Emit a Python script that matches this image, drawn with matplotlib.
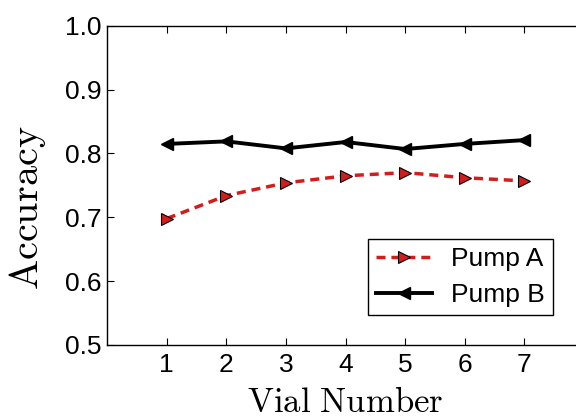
import matplotlib
matplotlib.use("Agg")
import matplotlib.pyplot as plt

vials = [1, 2, 3, 4, 5, 6, 7]
pump_a = [0.698, 0.734, 0.754, 0.765, 0.770, 0.762, 0.757]
pump_b = [0.815, 0.819, 0.808, 0.818, 0.807, 0.815, 0.821]

plt.rcParams['font.family'] = ['Liberation Sans', 'DejaVu Sans']
plt.rcParams['mathtext.fontset'] = 'cm'

fig = plt.figure(figsize=(5.76, 4.18), dpi=100)
# axes runs a bit past the right edge, like the cropped original
ax = fig.add_axes([0.186, 0.175, 0.828, 0.763])

ax.plot(vials, pump_a, color='#d41c1c', lw=2.5, dashes=(2.6, 1.7),
        marker='>', markersize=9, markerfacecolor='#d41c1c',
        markeredgecolor='black', markeredgewidth=0.8, label='Pump A')
ax.plot(vials, pump_b, color='black', lw=2.8,
        marker='<', markersize=9, markerfacecolor='black',
        markeredgecolor='black', label='Pump B')

ax.set_xlim(0, 8)
ax.set_ylim(0.5, 1.0)
ax.set_xticks(vials)
ax.set_yticks([0.5, 0.6, 0.7, 0.8, 0.9, 1.0])
ax.set_yticklabels(['0.5', '0.6', '0.7', '0.8', '0.9', '1.0'])
ax.tick_params(direction='in', top=True, right=True, labelsize=19,
               length=5, width=0.8)
ax.tick_params(axis='x', pad=6)
ax.tick_params(axis='y', pad=4)
for s in ax.spines.values():
    s.set_linewidth(1.0)

ax.set_xlabel(r'$\mathrm{Vial\ Number}$', fontsize=25, labelpad=6)
ax.set_ylabel(r'$\mathrm{Accuracy}$', fontsize=29)
ax.yaxis.set_label_coords(-0.123, 0.43)

leg = ax.legend(loc='lower right', bbox_to_anchor=(0.96, 0.246),
                bbox_transform=fig.transFigure, borderaxespad=0,
                numpoints=1, fontsize=19, fancybox=False, framealpha=1,
                edgecolor='black', handlelength=2.1, borderpad=0.3,
                labelspacing=0.45, handletextpad=0.75)
leg.get_frame().set_linewidth(1.0)

fig.savefig('out.png', dpi=100)
